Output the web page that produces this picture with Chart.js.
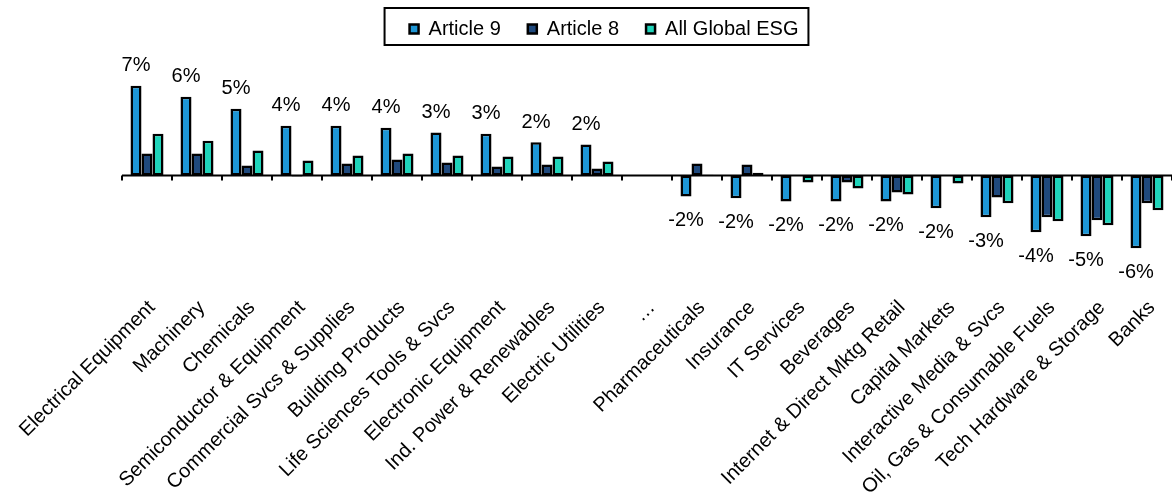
<!DOCTYPE html>
<html>
<head>
<meta charset="utf-8">
<script src="https://cdn.jsdelivr.net/npm/chart.js@4.4.0/dist/chart.umd.min.js"></script>
<style>
    html, body { margin: 0; padding: 0; background: #fff; }
    #contenedor { width: 1172px; height: 496px; }
</style>
</head>
<body>
<div id="contenedor"><canvas id="myChart"></canvas></div>
<script>
// Datos (en %)
const sectores = [
    'Electrical Equipment', 'Machinery', 'Chemicals', 'Semiconductor & Equipment',
    'Commercial Svcs & Supplies', 'Building Products', 'Life Sciences Tools & Svcs',
    'Electronic Equipment', 'Ind. Power & Renewables', 'Electric Utilities', '…',
    'Pharmaceuticals', 'Insurance', 'IT Services', 'Beverages', 'Internet & Direct Mktg Retail',
    'Capital Markets', 'Interactive Media & Svcs', 'Oil, Gas & Consumable Fuels',
    'Tech Hardware & Storage', 'Banks'
];
const articulo9 = [6.67, 5.85, 4.96, 3.70, 3.70, 3.56, 3.19, 3.11, 2.48, 2.30, null,
    -1.56, -1.70, -1.93, -1.93, -1.93, -2.44, -3.11, -4.22, -4.52, -5.41];
const articulo8 = [1.63, 1.63, 0.74, -0.07, 0.89, 1.19, 0.96, 0.67, 0.81, 0.52, null,
    0.89, 0.81, 0, -0.52, -1.26, 0, -1.63, -3.11, -3.33, -2.07];
const esgGlobal = [3.11, 2.59, 1.85, 1.11, 1.48, 1.63, 1.48, 1.41, 1.41, 1.04, null,
    0.05, 0.2, -0.52, -0.96, -1.41, -0.59, -2.07, -3.41, -3.70, -2.59];
// Etiquetas que aparecen sobre/bajo las barras de Article 9
const etiquetasA9 = ['7%', '6%', '5%', '4%', '4%', '4%', '3%', '3%', '2%', '2%', '',
    '-2%', '-2%', '-2%', '-2%', '-2%', '-2%', '-3%', '-4%', '-5%', '-6%'];

const fuente = "'Liberation Sans', Arial, sans-serif";

// Línea del cero con marcas entre categorías
const lineaCero = {
    id: 'lineaCero',
    afterDatasetsDraw(chart) {
        const { ctx, chartArea, scales } = chart;
        const y0 = scales.y.getPixelForValue(0);
        const paso = scales.x.getPixelForValue(1) - scales.x.getPixelForValue(0);
        ctx.save();
        ctx.strokeStyle = '#000';
        ctx.lineWidth = 2;
        ctx.beginPath();
        ctx.moveTo(chartArea.left, y0);
        ctx.lineTo(chartArea.right, y0);
        for (let i = 0; i <= sectores.length; i++) {
            const x = Math.round(scales.x.getPixelForValue(i) - paso / 2);
            ctx.moveTo(x, y0);
            ctx.lineTo(x, y0 + 5);
        }
        ctx.stroke();
        ctx.restore();
    }
};

// Etiquetas de valor de Article 9
const etiquetasValor = {
    id: 'etiquetasValor',
    afterDatasetsDraw(chart) {
        const { ctx } = chart;
        const meta = chart.getDatasetMeta(0);
        ctx.save();
        ctx.font = '20px ' + fuente;
        ctx.fillStyle = '#000';
        ctx.textAlign = 'center';
        ctx.textBaseline = 'middle';
        meta.data.forEach((barra, i) => {
            const v = articulo9[i];
            if (v === null) return;
            const y = v >= 0 ? barra.y - 20 : barra.y + 24;
            ctx.fillText(etiquetasA9[i], barra.x, y);
        });
        ctx.restore();
    }
};

// Recuadro alrededor de la leyenda
const marcoLeyenda = {
    id: 'marcoLeyenda',
    afterDraw(chart) {
        const cajas = chart.legend.legendHitBoxes;
        if (!cajas || !cajas.length) return;
        const ultima = cajas[cajas.length - 1];
        const izq = cajas[0].left - 25;
        const der = ultima.left + ultima.width + 10;
        const ctx = chart.ctx;
        ctx.save();
        ctx.strokeStyle = '#000';
        ctx.lineWidth = 2;
        ctx.strokeRect(izq, 8, der - izq, 37);
        ctx.restore();
    }
};

const canvas = document.getElementById('myChart');
const myChart = new Chart(canvas, {
    type: 'bar',
    data: {
        labels: sectores,
        datasets: [
            { label: 'Article 9', data: articulo9, backgroundColor: '#1E96D5' },
            { label: 'Article 8', data: articulo8, backgroundColor: '#1F497D' },
            { label: 'All Global ESG', data: esgGlobal, backgroundColor: '#20D4BA' }
        ]
    },
    options: {
        responsive: true,
        maintainAspectRatio: false,
        animation: false,
        layout: { padding: { top: -8, left: 36, right: 0, bottom: 0 } },
        datasets: {
            bar: {
                borderColor: '#000',
                borderWidth: 2.5,
                borderSkipped: false,
                categoryPercentage: 0.66,
                barPercentage: 1
            }
        },
        plugins: {
            legend: {
                position: 'top',
                labels: {
                    color: '#000',
                    font: { size: 20, family: fuente },
                    boxWidth: 9,
                    boxHeight: 9,
                    padding: 27
                }
            },
            tooltip: { enabled: false }
        },
        scales: {
            x: {
                grid: { display: false, drawTicks: false },
                border: { display: false },
                ticks: {
                    color: '#000',
                    font: { size: 20, family: fuente },
                    autoSkip: false,
                    maxRotation: 45,
                    minRotation: 45,
                    padding: 6,
                    labelOffset: 5
                },
                afterFit(scale) { scale.height = 206; }
            },
            y: {
                min: -8.52,
                max: 9.41,
                grid: { display: false },
                border: { display: false },
                ticks: { display: false },
                afterFit(scale) { scale.width = 86; }
            }
        }
    },
    plugins: [lineaCero, etiquetasValor, marcoLeyenda]
});
</script>
</body>
</html>
